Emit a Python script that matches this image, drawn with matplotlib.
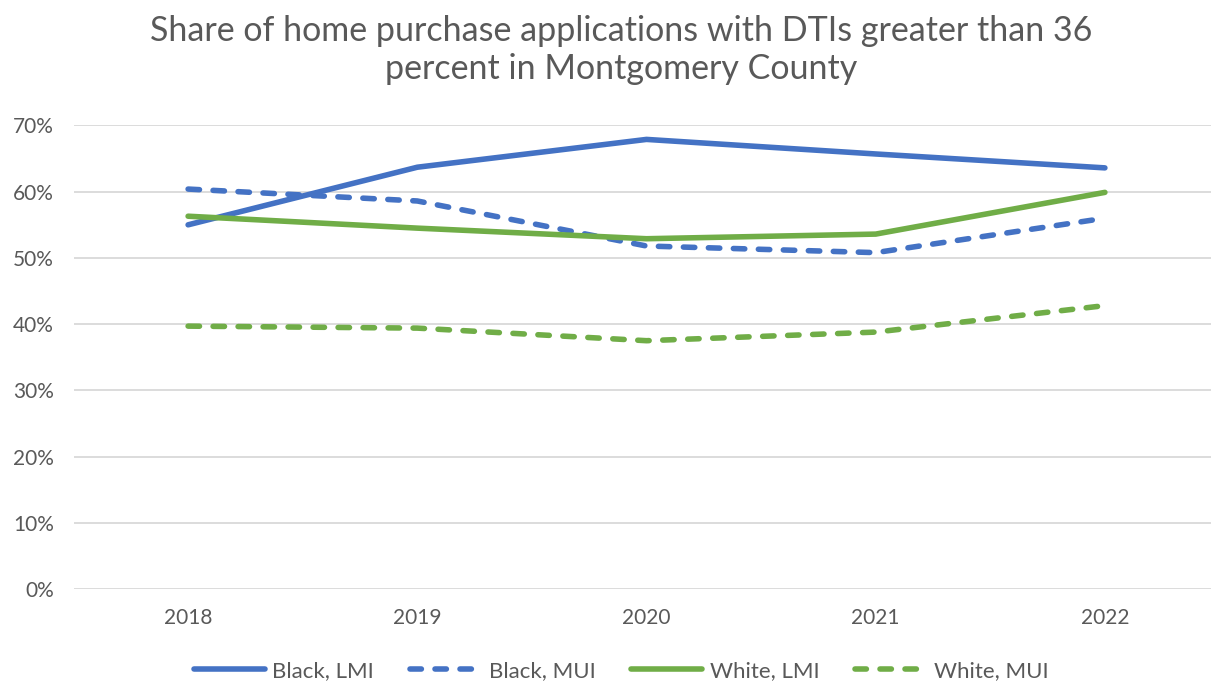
import matplotlib
matplotlib.use("Agg")
import matplotlib.pyplot as plt
from matplotlib.ticker import PercentFormatter

years = ["2018", "2019", "2020", "2021", "2022"]
black_lmi = [0.550, 0.637, 0.679, 0.657, 0.636]
black_mui = [0.604, 0.586, 0.518, 0.508, 0.560]
white_lmi = [0.563, 0.545, 0.529, 0.536, 0.599]
white_mui = [0.397, 0.394, 0.375, 0.388, 0.428]

plt.rcParams['font.family'] = ['Lato', 'DejaVu Sans']
text_color = '#595959'
blue = '#4472C4'
green = '#70AD47'

W, H = 1211, 684
fig = plt.figure(figsize=(W / 100, H / 100), dpi=100)
left, right = 73.5, 1219.5
bottom, top = 589, 125.5
ax = fig.add_axes([left / W, (H - bottom) / H, (right - left) / W, (bottom - top) / H])

x = list(range(len(years)))
dash = (0, (2.05, 2.45))
series = [
    (black_lmi, blue, '-', 'Black, LMI'),
    (black_mui, blue, dash, 'Black, MUI'),
    (white_lmi, green, '-', 'White, LMI'),
    (white_mui, green, dash, 'White, MUI'),
]
for vals, col, ls, lab in series:
    ax.plot(x, vals, color=col, linestyle=ls, lw=4.0, label=lab,
            solid_capstyle='round', dash_capstyle='round', solid_joinstyle='round')

ax.set_xlim(-0.5, len(years) - 0.5)
ax.set_ylim(0, 0.70)
ax.set_yticks([i / 10 for i in range(8)])
ax.yaxis.set_major_formatter(PercentFormatter(1.0, decimals=0))
ax.set_xticks(x)
ax.set_xticklabels(years)
ax.grid(axis='y', color='#D9D9D9', lw=1.3)
ax.set_axisbelow(True)
for s in ax.spines.values():
    s.set_visible(False)
ax.tick_params(axis='both', length=0, labelsize=15, colors=text_color)
ax.tick_params(axis='y', pad=14)
ax.tick_params(axis='x', pad=14)

fig.text(621 / W, 1 - 50 / H,
         "Share of home purchase applications with DTIs greater than 36\npercent in Montgomery County",
         ha='center', va='center', fontsize=24.5, color=text_color, linespacing=1.25)

leg = fig.legend(loc='center', bbox_to_anchor=(621 / W, 1 - 671 / H), ncol=4, frameon=False,
                 fontsize=16, handlelength=3.2, handletextpad=0.35, columnspacing=1.6)
for t in leg.get_texts():
    t.set_color(text_color)

fig.savefig("out.png", dpi=100)
